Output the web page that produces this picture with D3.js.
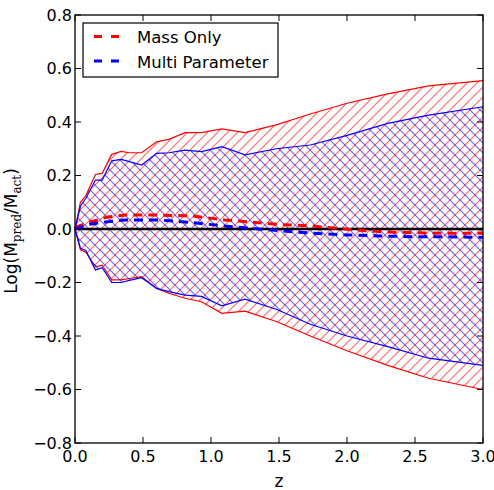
<!doctype html>
<html>
  <head>
    <meta charset="utf-8">
    <script src="https://cdnjs.cloudflare.com/ajax/libs/d3/7.8.5/d3.min.js"></script>
    <style>
      body { margin: 0; background: #fff; }
      text { font-family: "DejaVu Sans", sans-serif; }
    </style>
  </head>
  <body>
    <svg id="chart" width="494" height="490"></svg>
    <script>
        // redshift grid for the scatter envelopes
        var zBand = [0, 0.04, 0.08, 0.15, 0.2, 0.27, 0.34, 0.4, 0.49, 0.6, 0.69, 0.81, 0.93, 1.08, 1.25, 1.48, 1.73, 2.0, 2.3, 2.6, 3.0];
        var massUpper = [0, 0.1, 0.125, 0.204, 0.208, 0.279, 0.29, 0.285, 0.285, 0.326, 0.335, 0.36, 0.36, 0.374, 0.36, 0.389, 0.43, 0.47, 0.505, 0.535, 0.555];
        var massLower = [0, -0.078, -0.087, -0.141, -0.135, -0.19, -0.19, -0.185, -0.178, -0.222, -0.24, -0.259, -0.272, -0.315, -0.307, -0.346, -0.4, -0.455, -0.51, -0.558, -0.6];
        var multiUpper = [0, 0.085, 0.115, 0.183, 0.183, 0.255, 0.26, 0.252, 0.239, 0.283, 0.285, 0.295, 0.289, 0.308, 0.277, 0.3, 0.314, 0.35, 0.395, 0.426, 0.457];
        var multiLower = [0, -0.072, -0.08, -0.153, -0.145, -0.2, -0.2, -0.192, -0.182, -0.222, -0.234, -0.247, -0.252, -0.287, -0.262, -0.3, -0.356, -0.4, -0.44, -0.483, -0.51];

        // median offsets
        var zMean = [0, 0.12, 0.24, 0.37, 0.61, 0.86, 1.1, 1.5, 1.75, 2.0, 2.25, 2.5, 2.75, 3.0];
        var massMean = [0.006, 0.027, 0.045, 0.052, 0.052, 0.049, 0.034, 0.017, 0.011, -0.001, -0.01, -0.014, -0.016, -0.016];
        var multiMean = [0, 0.019, 0.027, 0.034, 0.034, 0.024, 0.011, -0.006, -0.016, -0.022, -0.026, -0.029, -0.029, -0.031];

        var xTicks = [0, 0.5, 1.0, 1.5, 2.0, 2.5, 3.0];
        var yTicks = [-0.8, -0.6, -0.4, -0.2, 0, 0.2, 0.4, 0.6, 0.8];
        var legendNames = ["Mass Only", "Multi Parameter"];
        var colors = ["red", "blue"];

        var pL = 75, pR = 483, pT = 15, pB = 443;
        var svg = d3.select("#chart");

        var x = d3.scaleLinear().domain([0, 3]).range([pL, pR]);
        var y = d3.scaleLinear().domain([-0.8, 0.8]).range([pB, pT]);

        var defs = svg.append("defs");
        var pr = defs.append("pattern").attr("id", "hatchRed").attr("patternUnits", "userSpaceOnUse")
            .attr("width", 10).attr("height", 10);
        pr.append("path").attr("d", "M0,10L10,0M-2,2L2,-2M8,12L12,8")
            .style("stroke", "red").style("stroke-opacity", 0.6).style("stroke-width", 1.1);
        var pb = defs.append("pattern").attr("id", "hatchBlue").attr("patternUnits", "userSpaceOnUse")
            .attr("width", 10).attr("height", 10);
        pb.append("path").attr("d", "M0,0L10,10M-2,8L2,12M8,-2L12,2")
            .style("stroke", "blue").style("stroke-opacity", 0.6).style("stroke-width", 1.1);

        var area = d3.area().x(d => x(d.z)).y0(d => y(d.lo)).y1(d => y(d.hi));
        var bandLine = d3.line().x(d => x(d[0])).y(d => y(d[1]));

        function band(lo, hi, pat, col) {
            var pts = zBand.map((z, i) => ({z: z, lo: lo[i], hi: hi[i]}));
            svg.append("path").attr("d", area(pts)).style("fill", "url(#" + pat + ")").style("stroke", "none");
            svg.append("path").attr("d", bandLine(zBand.map((z, i) => [z, hi[i]])))
                .style("fill", "none").style("stroke", col).style("stroke-width", 1.2);
            svg.append("path").attr("d", bandLine(zBand.map((z, i) => [z, lo[i]])))
                .style("fill", "none").style("stroke", col).style("stroke-width", 1.2);
        }
        band(massLower, massUpper, "hatchRed", "red");
        band(multiLower, multiUpper, "hatchBlue", "blue");

        // zero line
        svg.append("path").attr("d", bandLine([[0, 0], [3, 0]]))
            .style("stroke", "black").style("stroke-width", 2.5);

        [massMean, multiMean].forEach((vals, k) => {
            svg.append("path").attr("d", bandLine(zMean.map((z, i) => [z, vals[i]])))
                .style("fill", "none").style("stroke", colors[k]).style("stroke-width", 3)
                .style("stroke-dasharray", "9,6");
        });

        // frame + inward ticks
        svg.append("rect").attr("x", pL).attr("y", pT).attr("width", pR - pL).attr("height", pB - pT)
            .style("fill", "none").style("stroke", "black").style("stroke-width", 1.3);

        var g = svg.append("g");
        xTicks.forEach(t => {
            g.append("line").attr("x1", x(t)).attr("x2", x(t)).attr("y1", pB).attr("y2", pB - 6).style("stroke", "black");
            g.append("line").attr("x1", x(t)).attr("x2", x(t)).attr("y1", pT).attr("y2", pT + 6).style("stroke", "black");
            g.append("text").attr("x", x(t)).attr("y", 462).attr("text-anchor", "middle")
                .style("font-size", "16px").text(d3.format(".1f")(t));
        });
        yTicks.forEach(t => {
            g.append("line").attr("y1", y(t)).attr("y2", y(t)).attr("x1", pL).attr("x2", pL + 6).style("stroke", "black");
            g.append("line").attr("y1", y(t)).attr("y2", y(t)).attr("x1", pR).attr("x2", pR - 6).style("stroke", "black");
            g.append("text").attr("x", 72).attr("y", y(t)).attr("dy", "0.36em").attr("text-anchor", "end")
                .style("font-size", "16px").text(d3.format(".1f")(t).replace("-", "\u2212"));
        });

        svg.append("text").attr("x", (pL + pR) / 2).attr("y", 487).attr("text-anchor", "middle")
            .style("font-size", "17px").text("z");

        var yl = svg.append("text").attr("transform", "translate(17,231) rotate(-90)")
            .attr("text-anchor", "middle").style("font-size", "17px");
        yl.append("tspan").text("Log(M");
        yl.append("tspan").attr("dy", 4).style("font-family", "DejaVu Serif, serif").style("font-size", "12px").text("pred");
        yl.append("tspan").attr("dy", -4).text("/M");
        yl.append("tspan").attr("dy", 4).style("font-family", "DejaVu Serif, serif").style("font-size", "12px").text("act");
        yl.append("tspan").attr("dy", -4).text(")");

        // legend
        var lg = svg.append("g");
        lg.append("rect").attr("x", 83).attr("y", 23).attr("width", 195).attr("height", 54)
            .style("fill", "white").style("stroke", "black").style("stroke-width", 1.2);
        legendNames.forEach((name, i) => {
            var ly = 36.5 + i * 24.5;
            lg.append("line").attr("x1", 94).attr("x2", 120).attr("y1", ly).attr("y2", ly)
                .style("stroke", colors[i]).style("stroke-width", 3).style("stroke-dasharray", "8,9");
            lg.append("text").attr("x", 137).attr("y", ly + 6.5).style("font-size", "16.5px").text(name);
        });
    </script>
  </body>
</html>
